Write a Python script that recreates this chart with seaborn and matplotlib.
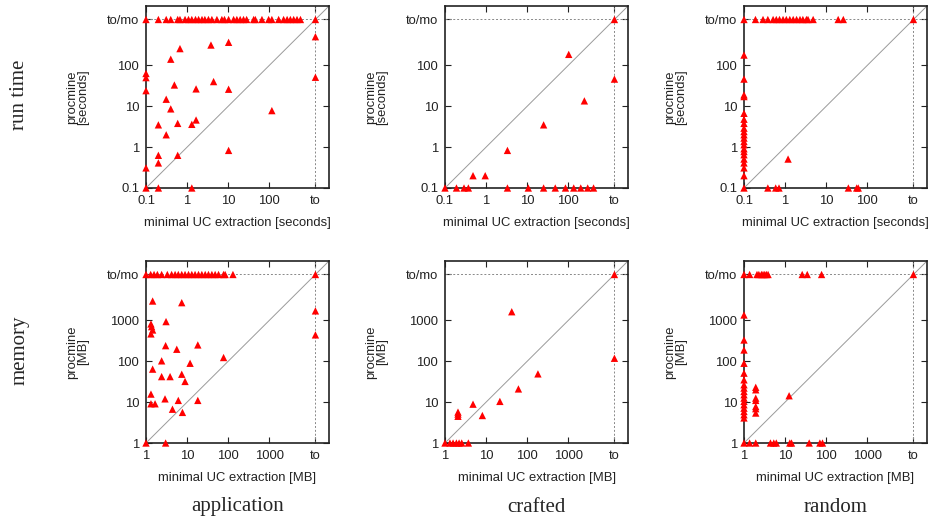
import numpy as np
import pandas as pd
import matplotlib
matplotlib.use("Agg")
import matplotlib.pyplot as plt
import seaborn as sns

TO = "to"

# run time, application
rt_app_x = [0.1, 0.2, 0.31, 0.4, 0.59, 0.67, 0.89, 1.08, 1.3, 1.6, 1.9, 2.3, 2.7, 3.3, 4.0, 5.3,
            7.0, 8.1, 10.2, 13.5, 16.2, 19.5, 23.5, 28, 41.5, 45.5, 66, 96, 115, 168, 222, 270,
            324, 390, 470, 570,
            0.1, 0.1, 0.1, 0.1, 0.1, 0.2, 0.2, 0.2, 0.2, 0.31, 0.31, 0.4, 0.4, 0.49, 0.59, 0.59,
            0.67, 1.3, 1.3, 1.65, 1.65, 3.8, 4.4, 10.2, 10.2, 10.2, 115, TO, TO, TO]
rt_app_y = [TO] * 36 + \
           [63, 50, 24, 0.31, 0.1, 0.1, 0.63, 0.41, 3.5, 2.0, 14.8, 141, 8.6, 33, 3.8, 0.63,
            256, 3.6, 0.1, 4.6, 26.5, 313, 40, 365, 26, 0.83, 7.8, 500, 51, TO]

# run time, crafted
rt_cra_x = [0.1, 0.19, 0.29, 0.37, 0.48, 0.95, 3.3, 3.3, 10.6, 25, 25, 48, 85, 102, 135, 200,
            245, 295, 410, TO, TO]
rt_cra_y = [0.1, 0.1, 0.1, 0.1, 0.2, 0.2, 0.83, 0.1, 0.1, 3.5, 0.1, 0.1, 0.1, 185, 0.1, 0.1,
            13.5, 0.1, 0.1, TO, 46]

# run time, random
rt_rnd_x = [0.1, 0.19, 0.29, 0.38, 0.51, 0.61, 0.73, 0.89, 1.07, 1.3, 1.57, 1.9, 2.3, 2.7, 3.3,
            3.6, 4.8, 19.5, 26, TO,
            0.1, 0.1, 0.1, 0.1, 0.1, 0.1, 0.1, 0.1, 0.1, 0.1, 0.1, 0.1, 0.1, 0.1, 0.1, 0.1,
            0.1, 0.1, 0.1, 0.1, 0.1,
            1.18, 0.38, 0.59, 0.71, 34.5, 55, 60]
rt_rnd_y = [TO] * 20 + \
           [0.1, 0.2, 0.31, 0.41, 0.51, 0.65, 0.78, 0.91, 1.14, 1.37, 1.66, 2.0, 2.4, 2.9, 3.8,
            4.8, 6.7, 17.2, 18.9, 46, 178,
            0.51, 0.1, 0.1, 0.1, 0.1, 0.1, 0.1]

# memory, application
mem_app_x = [1, 1.3, 1.57, 1.89, 2.4, 3.3, 4.2, 5.1, 6.1, 7.4, 8.9, 10.8, 13, 15.6, 18.9, 22.8,
             27.5, 33, 40, 48, 58, 77, 84, 130,
             1, 1.45, 1.32, 1.37, 1.45, 1.32, 1.45, 1.32, 1.32, 1.66, 2.4, 2.4, 2.9, 3.0, 3.07,
             3.0, 3.85, 4.4, 5.6, 6.1, 7.4, 7.4, 7.7, 8.9, 11.8, 18.2, 18.2, 77, TO, TO, TO]
mem_app_y = [TO] * 24 + \
            [1, 2960, 814, 700, 580, 465, 64, 15.7, 9.1, 9.1, 102, 42, 12, 1, 930,
             240, 42, 6.7, 196, 11, 2700, 48, 5.6, 32, 89, 250, 11, 123, TO, 1700, 440]

# memory, crafted
mem_cra_x = [1, 1.32, 1.57, 1.89, 2.2, 2.55, 3.7, 2.07, 2.07, 2.07, 4.8, 8.1, 21.6, 42, 61, 182,
             TO, TO]
mem_cra_y = [1, 1, 1, 1, 1, 1, 1, 5.7, 5.1, 4.5, 8.9, 4.7, 10.4, 1620, 21, 49, TO, 118]

# memory, random
mem_rnd_x = [1, 1.37, 2.07, 2.3, 2.65, 2.9, 3.2, 3.5, 3.85, 26, 34.5, 77, TO,
             1, 1, 1, 1, 1, 1, 1, 1, 1, 1, 1, 1, 1, 1, 1, 1, 1, 1,
             1.93, 1.93, 1.93, 1.93, 1.93, 1.93, 1.93,
             12.5,
             1.37, 1.93, 4.4, 5.3, 6.1, 13, 14.3, 38.5, 70, 81]
mem_rnd_y = [TO] * 13 + \
            [1, 4.1, 4.9, 5.9, 7.1, 8.6, 10.4, 12.5, 15.1, 18.2, 22, 26.5, 35, 51, 89, 188, 330,
             1350,
             23, 20, 12.5, 11, 7.8, 6.9, 5.4,
             14.3,
             1, 1, 1, 1, 1, 1, 1, 1, 1, 1]

rt_ticks = ["0.1", "1", "10", "100"]
mem_ticks = ["1", "10", "100", "1000"]
columns = ["application", "crafted", "random"]
rows = ["run time", "memory"]

sns.set_style("ticks")
plt.rcParams["font.family"] = ["Liberation Sans", "DejaVu Sans"]

W, H = 933, 524
fig = plt.figure(figsize=(W / 100, H / 100), dpi=100)

lefts = [146, 445, 744]
tops = [6, 261]
aw, ah = 183, 182
fs = 9.4

panels = [
    [(rt_app_x, rt_app_y), (rt_cra_x, rt_cra_y), (rt_rnd_x, rt_rnd_y)],
    [(mem_app_x, mem_app_y), (mem_cra_x, mem_cra_y), (mem_rnd_x, mem_rnd_y)],
]


def to_num(vals, to_pos):
    return [to_pos if v == TO else v for v in vals]


for r in range(2):
    if r == 0:
        lo, ticks, unit = 0.1, rt_ticks, "seconds"
    else:
        lo, ticks, unit = 1.0, mem_ticks, "MB"
    to_pos = lo * 10 ** 4.12
    hi = lo * 10 ** 4.45
    tick_pos = [float(t) for t in ticks] + [to_pos]

    for c in range(3):
        ax = fig.add_axes([lefts[c] / W, 1 - (tops[r] + ah) / H, aw / W, ah / H])
        xs, ys = panels[r][c]
        df = pd.DataFrame({"x": to_num(xs, to_pos), "y": to_num(ys, to_pos)})

        ax.set_xscale("log")
        ax.set_yscale("log")
        ax.plot([lo, hi], [lo, hi], color="#9a9a9a", lw=0.7, zorder=1)
        ax.axhline(to_pos, color="#888888", lw=0.7, ls=(0, (2, 2)), zorder=1)
        ax.axvline(to_pos, color="#888888", lw=0.7, ls=(0, (2, 2)), zorder=1)

        sns.scatterplot(data=df, x="x", y="y", ax=ax, marker="^", s=28,
                        color="#ff0000", edgecolor="none", linewidth=0,
                        clip_on=False, zorder=4)

        ax.set_xlim(lo, hi)
        ax.set_ylim(lo, hi)
        ax.minorticks_off()
        ax.set_xticks(tick_pos)
        ax.set_xticklabels(ticks + ["to"])
        ax.set_yticks(tick_pos)
        ax.set_yticklabels(ticks + ["to/mo"])
        ax.tick_params(direction="in", top=True, right=True, length=4, width=0.8,
                       labelsize=fs, pad=5, colors="#222222")
        for sp in ax.spines.values():
            sp.set_linewidth(1.2)
            sp.set_color("#222222")

        ax.set_xlabel(f"minimal UC extraction [{unit}]", fontsize=fs, color="#222222")
        ax.set_ylabel(f"procmine\n[{unit}]", fontsize=fs, color="#222222", linespacing=0.95)
        ax.xaxis.set_label_coords(0.5, -0.16)
        ax.yaxis.set_label_coords(-0.31, 0.5)

serif = ["Liberation Serif", "DejaVu Serif"]
fig.text(20 / W, 1 - 95 / H, rows[0], rotation=90, ha="center", va="center",
         family=serif, fontsize=15)
fig.text(20 / W, 1 - 350 / H, rows[1], rotation=90, ha="center", va="center",
         family=serif, fontsize=15)
for c in range(3):
    fig.text((lefts[c] + aw / 2) / W, 1 - 507 / H, columns[c], ha="center", va="center",
             family=serif, fontsize=15)

fig.savefig("out.png", dpi=100)
